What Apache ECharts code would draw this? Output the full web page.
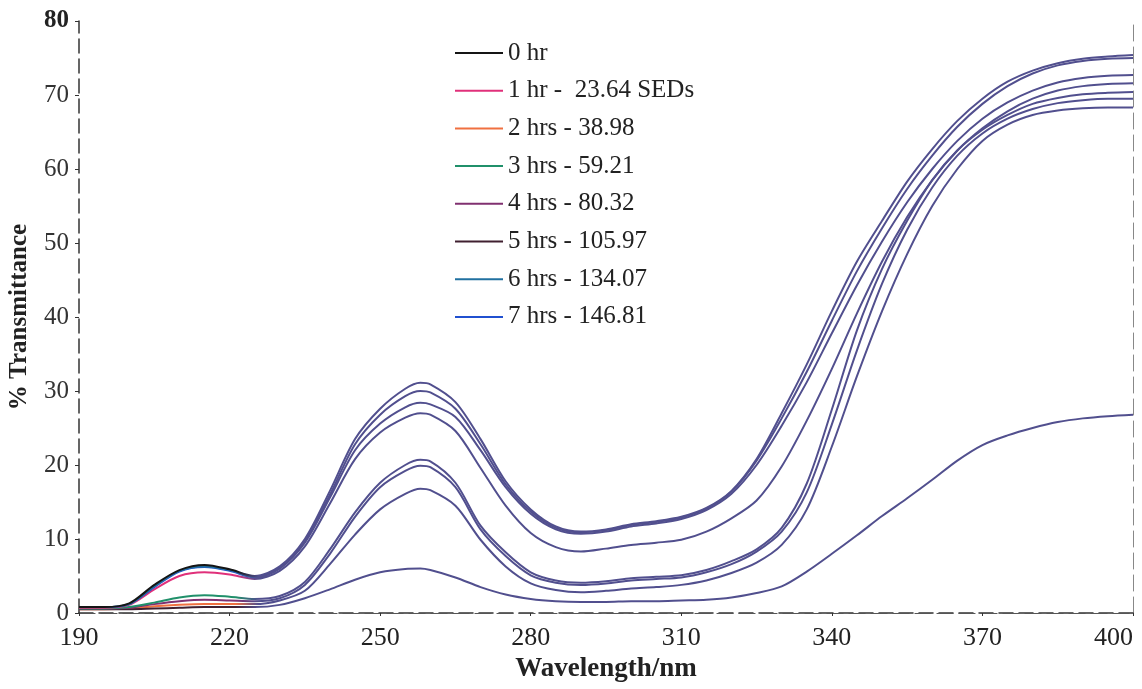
<!DOCTYPE html>
<html>
<head>
<meta charset="utf-8">
<script src="https://cdn.jsdelivr.net/npm/echarts@6/dist/echarts.min.js"></script>
<style>
  html, body { margin: 0; padding: 0; background: #fff; }
  #main { width: 1142px; height: 689px; }
</style>
</head>
<body>
<div id="main"></div>
<script>
// wavelength grid (nm)
const wavelengths = [190, 195, 200, 205, 210, 215, 220, 225, 230, 235, 240, 245, 250, 255, 258, 260, 265, 270, 275, 280, 285, 290, 295, 300, 305, 310, 315, 320, 325, 330, 335, 340, 345, 350, 355, 360, 365, 370, 375, 380, 385, 390, 395, 400]

const xTicks = [190, 220, 250, 280, 310, 340, 370, 400]

// % transmittance
const hr0 = [0.8, 0.8, 1.3, 3.8, 5.8, 6.5, 5.9, 5.0, 6.3, 10.0, 16.5, 23.5, 27.6, 30.3, 31.1, 30.9, 28.5, 23.5, 17.8, 14.0, 11.7, 11.0, 11.3, 12.0, 12.4, 13.0, 14.2, 16.5, 20.8, 27.0, 33.6, 40.8, 47.5, 53.0, 58.3, 62.7, 66.5, 69.5, 71.8, 73.3, 74.3, 74.9, 75.2, 75.4]
const hr6 = [0.8, 0.8, 1.2, 3.6, 5.7, 6.3, 5.8, 4.9, 6.1, 9.7, 16.0, 22.8, 26.8, 29.3, 30.0, 29.8, 27.6, 22.8, 17.4, 13.7, 11.5, 10.9, 11.2, 11.9, 12.3, 12.9, 14.1, 16.4, 20.6, 26.3, 32.6, 39.5, 46.2, 52.0, 57.3, 61.8, 65.7, 68.8, 71.2, 72.9, 74.0, 74.6, 74.9, 75.0]
const hr7 = [0.8, 0.8, 1.2, 3.5, 5.6, 6.2, 5.7, 4.8, 6.0, 9.5, 15.6, 22.0, 25.6, 27.8, 28.4, 28.2, 26.5, 22.0, 17.0, 13.4, 11.3, 10.7, 11.0, 11.7, 12.1, 12.7, 13.9, 16.1, 20.0, 25.3, 31.2, 37.8, 44.3, 50.2, 55.5, 60.0, 63.8, 66.8, 69.0, 70.6, 71.7, 72.3, 72.6, 72.7]
const hr1 = [0.7, 0.7, 1.1, 3.2, 5.0, 5.5, 5.2, 4.6, 5.7, 9.0, 14.8, 20.8, 24.4, 26.4, 27.0, 26.8, 24.6, 19.6, 14.5, 10.8, 8.9, 8.3, 8.7, 9.2, 9.5, 9.9, 11.0, 12.8, 15.2, 19.8, 26.0, 33.0, 40.5, 47.5, 53.5, 58.5, 62.5, 65.5, 67.8, 69.5, 70.6, 71.2, 71.5, 71.6]
const hr3 = [0.6, 0.6, 0.8, 1.4, 2.1, 2.4, 2.2, 1.9, 2.3, 4.2, 8.6, 13.6, 17.6, 20.0, 20.7, 20.5, 17.6, 11.8, 8.2, 5.5, 4.4, 4.1, 4.3, 4.7, 4.9, 5.1, 5.8, 7.0, 8.6, 11.5, 17.5, 27.5, 38.2, 46.5, 53.0, 58.5, 62.5, 65.3, 67.3, 68.8, 69.6, 70.1, 70.3, 70.4]
const hr4 = [0.6, 0.6, 0.7, 1.2, 1.6, 1.8, 1.7, 1.6, 2.0, 3.8, 8.0, 13.0, 17.0, 19.2, 19.9, 19.7, 17.0, 11.3, 7.7, 5.1, 4.1, 3.8, 4.0, 4.4, 4.6, 4.8, 5.5, 6.6, 8.3, 11.0, 16.3, 25.5, 35.5, 44.5, 51.8, 57.5, 61.8, 64.8, 66.8, 68.1, 68.9, 69.3, 69.5, 69.5]
const hr2 = [0.5, 0.5, 0.6, 0.9, 1.1, 1.2, 1.2, 1.2, 1.7, 3.0, 6.6, 10.6, 14.0, 16.1, 16.8, 16.6, 14.5, 9.9, 6.3, 4.0, 3.1, 2.8, 3.0, 3.3, 3.5, 3.8, 4.4, 5.4, 6.8, 9.2, 14.0, 22.5, 32.0, 40.8, 48.5, 55.0, 60.0, 63.8, 66.0, 67.3, 67.9, 68.2, 68.3, 68.3]
const hr5 = [0.5, 0.5, 0.5, 0.6, 0.7, 0.8, 0.8, 0.8, 1.1, 2.0, 3.2, 4.5, 5.5, 5.95, 6.0, 5.8, 4.8, 3.5, 2.5, 1.9, 1.6, 1.5, 1.5, 1.6, 1.6, 1.7, 1.8, 2.1, 2.7, 3.6, 5.6, 8.0, 10.5, 13.1, 15.5, 18.0, 20.6, 22.7, 24.0, 25.0, 25.8, 26.3, 26.6, 26.8]

const names = ['0 hr', '1 hr -  23.64 SEDs', '2 hrs - 38.98', '3 hrs - 59.21', '4 hrs - 80.32', '5 hrs - 105.97', '6 hrs - 134.07', '7 hrs - 146.81']
const colors = ['#151515', '#e0307a', '#f07040', '#20906a', '#803070', '#402030', '#2070a0', '#2050d0']
const values = [hr0, hr1, hr2, hr3, hr4, hr5, hr6, hr7]

// the traces all print in this slate purple, only the short UV-C start keeps its own colour
const traceColor = '#514f8e'
// drawing order: colours that show at the start sit on top there
const drawOrder = [2, 5, 4, 3, 1, 7, 6, 0]

const serif = 'Liberation Serif'

var myChart = echarts.init(document.getElementById('main'))

let series = drawOrder.map(i => ({
  name: names[i],
  type: 'line',
  smooth: 0.3,
  symbol: 'none',
  itemStyle: { color: colors[i] },
  lineStyle: {
    width: 2,
    color: {
      type: 'linear', x: 0, y: 0, x2: 1, y2: 0,
      colorStops: [
        { offset: 0, color: colors[i] },
        { offset: 0.15, color: colors[i] },
        { offset: 0.172, color: traceColor },
        { offset: 1, color: traceColor }
      ]
    }
  },
  data: wavelengths.map((w, k) => [w, values[i][k]])
}))

let option = {
  animation: false,
  backgroundColor: '#fff',
  grid: { left: 79, right: 9, top: 21, bottom: 76, outerBoundsMode: 'none' },
  legend: {
    orient: 'vertical',
    left: 450,
    top: 35,
    icon: 'rect',
    itemWidth: 48,
    itemHeight: 2,
    itemGap: 11.7,
    data: names,
    textStyle: { fontFamily: serif, fontSize: 25, color: '#222', lineHeight: 26 }
  },
  xAxis: [
    {
      type: 'value',
      min: 190,
      max: 400,
      interval: 30,
      name: 'Wavelength/nm',
      nameLocation: 'middle',
      nameGap: 40,
      nameTextStyle: { fontFamily: serif, fontSize: 27, fontWeight: 'bold', color: '#222' },
      axisLine: { lineStyle: { color: '#333', width: 1.5, type: [14, 6] } },
      axisTick: { show: true, length: 3, lineStyle: { color: '#333' } },
      axisLabel: {
        margin: 12,
        fontFamily: serif,
        fontSize: 26,
        color: '#222',
        alignMaxLabel: 'right',
        formatter: v => (xTicks.indexOf(v) >= 0 ? String(v) : '')
      },
      splitLine: { show: false }
    },
    {
      type: 'value',
      position: 'top',
      min: 190,
      max: 400,
      axisLine: { show: true, lineStyle: { color: '#555', width: 1.2, type: [16, 6] } },
      axisTick: { show: false },
      axisLabel: { show: false },
      splitLine: { show: false }
    }
  ],
  yAxis: [
    {
      type: 'value',
      min: 0,
      max: 80,
      interval: 10,
      name: '% Transmittance',
      nameLocation: 'middle',
      nameGap: 47,
      nameTextStyle: { fontFamily: serif, fontSize: 25, fontWeight: 'bold', color: '#222' },
      axisLine: { show: true, lineStyle: { color: '#333', width: 1.5, type: [14, 6] } },
      axisTick: { show: true, length: 4, lineStyle: { color: '#333' } },
      axisLabel: {
        margin: 10,
        fontFamily: serif,
        fontSize: 25,
        color: '#333',
        formatter: v => (v === 80 ? '{b|80}' : String(v)),
        rich: { b: { fontFamily: serif, fontSize: 25, fontWeight: 'bold', color: '#222' } }
      },
      splitLine: { show: false }
    },
    {
      type: 'value',
      position: 'right',
      min: 0,
      max: 80,
      axisLine: { show: true, lineStyle: { color: '#888', width: 1, type: [16, 6] } },
      axisTick: { show: false },
      axisLabel: { show: false },
      splitLine: { show: false }
    }
  ],
  series: series
}

myChart.setOption(option)
</script>
</body>
</html>
